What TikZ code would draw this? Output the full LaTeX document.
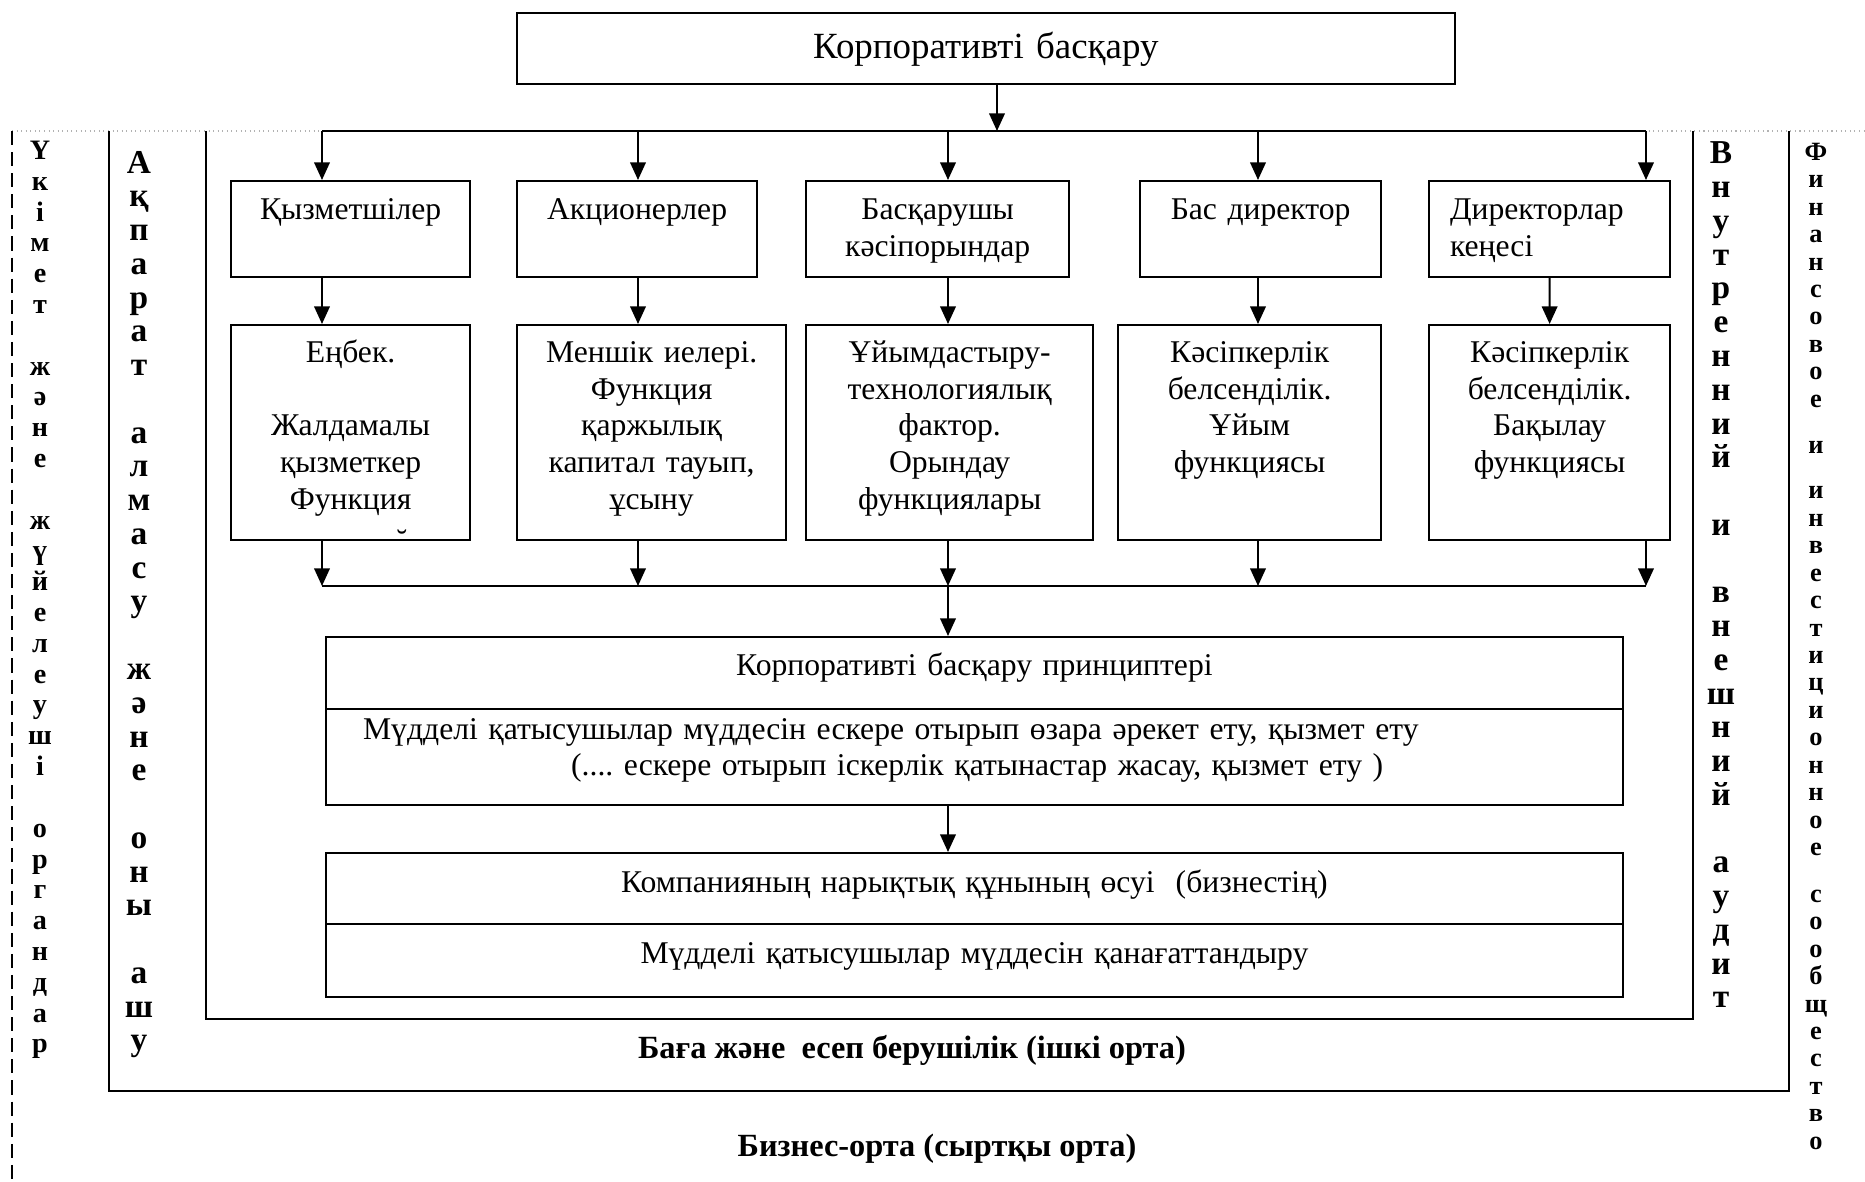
\documentclass[tikz,border=0pt]{standalone}
\usepackage{fontspec}
\setmainfont{Liberation Serif}
\usetikzlibrary{arrows.meta}
\newcommand{\boxfont}{\fontsize{9}{10.5}\selectfont}
\frenchspacing

\begin{document}
\begin{tikzpicture}[x=0.01cm, y=-0.01cm, line width=0.6pt,
    >={Triangle[length=5pt,width=4.4pt]},
    unit/.style={draw, anchor=north west, inner sep=0pt, align=center, font=\boxfont},
    high/.style={text height=0.38cm, text depth=0.58cm},
    tall/.style={text height=0.37cm, text depth=1.78cm},
    side/.style={anchor=north, inner sep=0pt, align=center}]
    \useasboundingbox (0,0) rectangle (1865,1182);
    \node [unit, text width=9.37cm, text height=0.45cm, text depth=0.26cm,
      font=\fontsize{10.5}{12}\selectfont] (0) at (516,12) {Корпоративті басқару};
    \node [unit, high, text width=2.39cm] (1) at (230,180) {Қызметшілер};
    \node [unit, high, text width=2.40cm] (2) at (516,180) {Акционерлер};
    \node [unit, high, text width=2.63cm] (3) at (805,180) {Басқарушы\\кәсіпорындар};
    \node [unit, high, text width=2.41cm] (4) at (1139,180) {Бас директор};
    \node [unit, high, text width=1.99cm, inner xsep=0.21cm, align=left] (5) at (1428,180)
      {Директорлар\\кеңесі};
    \node [unit, tall, text width=2.39cm] (6) at (230,324)
      {Еңбек.\\[10.5pt]Жалдамалы\\қызметкер\\Функция};
    \node [unit, tall, text width=2.69cm] (7) at (516,324)
      {Меншік иелері.\\Функция\\қаржылық\\капитал тауып,\\ұсыну};
    \node [unit, tall, text width=2.87cm] (8) at (805,324)
      {Ұйымдастыру-\\технологиялық\\фактор.\\Орындау\\функциялары};
    \node [unit, tall, text width=2.63cm] (9) at (1117,324)
      {Кәсіпкерлік\\белсенділік.\\Ұйым\\функциясы};
    \node [unit, tall, text width=2.41cm] (10) at (1428,324)
      {Кәсіпкерлік\\белсенділік.\\Бақылау\\функциясы};
    \node [font=\boxfont, anchor=base, inner sep=0pt] (cut) at (402,552) {˘};
    \node [unit, text width=12.96cm, text height=0.38cm, text depth=0.34cm] (11) at (325,636)
      {Корпоративті басқару принциптері};
    \node [unit, text width=12.22cm, inner xsep=0.37cm, text height=0.30cm, text depth=0.66cm,
      align=left] (12) at (325,708)
      {Мүдделі қатысушылар мүддесін ескере отырып өзара әрекет ету, қызмет ету\\
      \hspace*{2.08cm}(.... ескере отырып іскерлік қатынастар жасау, қызмет ету )};
    \node [unit, text width=12.96cm, text height=0.39cm, text depth=0.32cm] (13) at (325,852)
      {Компанияның нарықтық құнының өсуі~ (бизнестің)};
    \node [unit, text width=12.96cm, text height=0.39cm, text depth=0.34cm] (14) at (325,923)
      {Мүдделі қатысушылар мүддесін қанағаттандыру};
    \node [font=\fontsize{9.2}{11}\selectfont\bfseries] (15) at (912,1050)
      {Баға және~ есеп берушілік (ішкі орта)};
    \node [font=\fontsize{9.2}{11}\selectfont\bfseries] (16) at (937,1149)
      {Бизнес-орта (сыртқы орта)};
    \node [side, font=\fontsize{8}{8.76}\selectfont\bfseries] (17) at (40,140)
      {Ү\\к\\і\\м\\е\\т\\[8.76pt]ж\\ә\\н\\е\\[8.76pt]ж\\ү\\й\\е\\л\\е\\у\\ш\\і\\[8.76pt]о\\р\\г\\а\\н\\д\\а\\р};
    \node [side, font=\fontsize{9.5}{9.6}\selectfont\bfseries] (18) at (139,150)
      {А\\қ\\п\\а\\р\\а\\т\\[9.6pt]а\\л\\м\\а\\с\\у\\[9.6pt]ж\\ә\\н\\е\\[9.6pt]о\\н\\ы\\[9.6pt]а\\ш\\у};
    \node [side, font=\fontsize{9.5}{9.6}\selectfont\bfseries] (19) at (1721,141)
      {В\\н\\у\\т\\р\\е\\н\\н\\и\\й\\[9.6pt]и\\[9.6pt]в\\н\\е\\ш\\н\\и\\й\\[9.6pt]а\\у\\д\\и\\т};
    \node [side, font=\fontsize{7.5}{7.8}\selectfont\bfseries] (20) at (1816,142)
      {Ф\\и\\н\\а\\н\\с\\о\\в\\о\\е\\[5.5pt]и\\[5pt]и\\н\\в\\е\\с\\т\\и\\ц\\и\\о\\н\\н\\о\\е\\[5.5pt]с\\о\\о\\б\\щ\\е\\с\\т\\в\\о};
    \coordinate (h) at (997,131);
    \coordinate (t1) at (322,131);
    \coordinate (t2) at (638,131);
    \coordinate (t3) at (948,131);
    \coordinate (t4) at (1258,131);
    \coordinate (t5) at (1646,131);
    \coordinate (u1) at (322,586);
    \coordinate (u2) at (638,586);
    \coordinate (u3) at (948,586);
    \coordinate (u4) at (1258,586);
    \coordinate (u5) at (1646,586);
    \draw [gray!60, line width=0.3pt, densely dotted] (12,131) -- (1865,131);
    \draw [dash pattern=on 4pt off 2pt] (12,131) -- (12,1182);
    \draw (109,131) |- (1789,1091) -- (1789,131);
    \draw (206,131) |- (1693,1019) -- (1693,131);
    \draw [->] (h |- 0.south) to (h);
    \draw (t1) -- (t5);
    \draw [->] (t1) to (t1 |- 1.north);
    \draw [->] (t2) to (t2 |- 2.north);
    \draw [->] (t3) to (t3 |- 3.north);
    \draw [->] (t4) to (t4 |- 4.north);
    \draw [->] (t5) to (t5 |- 5.north);
    \draw [->] (t1 |- 1.south) to (t1 |- 6.north);
    \draw [->] (t2 |- 2.south) to (t2 |- 7.north);
    \draw [->] (t3 |- 3.south) to (t3 |- 8.north);
    \draw [->] (t4 |- 4.south) to (t4 |- 9.north);
    \draw [->] (5) to (10);
    \draw [->] (u1 |- 6.south) to (u1);
    \draw [->] (u2 |- 7.south) to (u2);
    \draw [->] (u3 |- 8.south) to (u3);
    \draw [->] (u4 |- 9.south) to (u4);
    \draw [->] (u5 |- 10.south) to (u5);
    \draw (u1) -- (u5);
    \draw [->] (u3) to (u3 |- 11.north);
    \draw [->] (u3 |- 12.south) to (u3 |- 13.north);
  \end{tikzpicture}
\end{document}
